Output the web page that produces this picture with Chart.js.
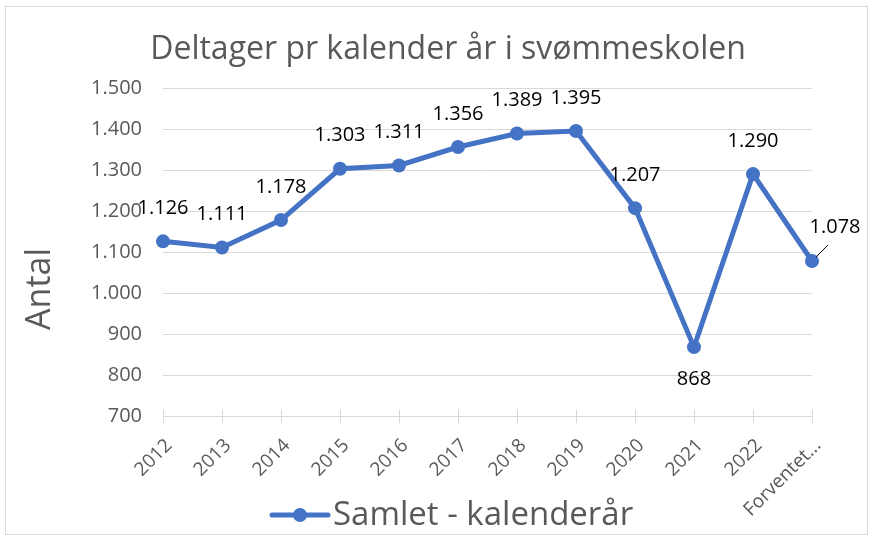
<!DOCTYPE html>
<html>
<head>
<meta charset="utf-8">
<script src="https://cdn.jsdelivr.net/npm/chart.js@4.4.0/dist/chart.umd.min.js"></script>
<style>
  html, body { margin: 0; padding: 0; background: #fff; }
  canvas { display: block; }
</style>
</head>
<body>
<canvas id="chart" width="876" height="541"></canvas>
<script>
const years = ['2012', '2013', '2014', '2015', '2016', '2017', '2018', '2019', '2020', '2021', '2022', 'Forventet...'];
const deltagere = [1126, 1111, 1178, 1303, 1311, 1356, 1389, 1395, 1207, 868, 1290, 1078];
const yTicks = [700, 800, 900, 1000, 1100, 1200, 1300, 1400, 1500];
// where each data label sits: above, below, or up-right with a leader line
const labelPlacement = ['above', 'above', 'above', 'above', 'above', 'above', 'above', 'above', 'above', 'below', 'above', 'leader'];

const chartTitle = 'Deltager pr kalender år i svømmeskolen';
const yTitle = 'Antal';
const seriesName = 'Samlet - kalenderår';

const blue = '#4472C4';
const grey = '#595959';
const gridGrey = '#d9d9d9';
const fontFamily = '"Open Sans", "Noto Sans", sans-serif';

// 1.126 style numbers
function fmt(n) {
    return String(n).replace(/\B(?=(\d{3})+(?!\d))/g, '.');
}

// white background, frame, title and the rotated y title
const chartFrame = {
    id: 'chartFrame',
    beforeDraw(chart) {
        const ctx = chart.ctx;
        ctx.save();
        ctx.fillStyle = '#fff';
        ctx.fillRect(0, 0, chart.width, chart.height);
        ctx.strokeStyle = gridGrey;
        ctx.lineWidth = 1;
        ctx.strokeRect(5.5, 6.5, 862, 528);

        ctx.fillStyle = grey;
        ctx.textAlign = 'center';
        ctx.textBaseline = 'middle';
        ctx.font = '32px ' + fontFamily;
        ctx.fillText(chartTitle, 448, 50);

        ctx.translate(40, 289);
        ctx.rotate(-Math.PI / 2);
        ctx.font = '34px ' + fontFamily;
        ctx.fillText(yTitle, 0, 0);
        ctx.restore();
    }
};

// Excel style cross tick marks and 45 degree category labels
const categoryAxis = {
    id: 'categoryAxis',
    beforeDatasetsDraw(chart) {
        const ctx = chart.ctx;
        const x = chart.scales.x;
        const y = Math.round(chart.chartArea.bottom) + 0.5;
        ctx.save();
        ctx.strokeStyle = gridGrey;
        ctx.lineWidth = 1;
        ctx.beginPath();
        x.ticks.forEach((t, i) => {
            const px = Math.round(x.getPixelForTick(i)) + 0.5;
            ctx.moveTo(px, y - 7);
            ctx.lineTo(px, y + 7);
        });
        ctx.stroke();

        ctx.fillStyle = grey;
        ctx.font = '19px ' + fontFamily;
        ctx.textAlign = 'right';
        ctx.textBaseline = 'middle';
        x.ticks.forEach((t, i) => {
            ctx.save();
            ctx.translate(x.getPixelForTick(i) + 6, y + 26);
            ctx.rotate(-Math.PI / 4);
            ctx.fillText(chart.data.labels[i], 0, 0);
            ctx.restore();
        });
        ctx.restore();
    }
};

const pointLabels = {
    id: 'pointLabels',
    afterDatasetsDraw(chart) {
        const ctx = chart.ctx;
        const meta = chart.getDatasetMeta(0);
        ctx.save();
        ctx.font = '20px ' + fontFamily;
        ctx.fillStyle = '#000';
        ctx.textAlign = 'center';
        ctx.textBaseline = 'middle';
        meta.data.forEach((pt, i) => {
            const txt = fmt(deltagere[i]);
            const place = labelPlacement[i];
            if (place === 'below') {
                ctx.fillText(txt, pt.x, pt.y + 32);
            } else if (place === 'leader') {
                ctx.fillText(txt, pt.x + 23, pt.y - 34);
                ctx.beginPath();
                ctx.strokeStyle = '#000';
                ctx.lineWidth = 1;
                ctx.moveTo(pt.x + 4, pt.y - 4);
                ctx.lineTo(pt.x + 16, pt.y - 16);
                ctx.stroke();
            } else {
                ctx.fillText(txt, pt.x, pt.y - 33);
            }
        });
        ctx.restore();
    }
};

const bottomLegend = {
    id: 'bottomLegend',
    afterDraw(chart) {
        const ctx = chart.ctx;
        const y = 515;
        const x0 = 272;
        ctx.save();
        ctx.strokeStyle = blue;
        ctx.lineWidth = 5;
        ctx.lineCap = 'round';
        ctx.beginPath();
        ctx.moveTo(x0, y);
        ctx.lineTo(x0 + 56, y);
        ctx.stroke();
        ctx.fillStyle = blue;
        ctx.beginPath();
        ctx.arc(x0 + 28, y, 7, 0, Math.PI * 2);
        ctx.fill();
        ctx.font = '33px ' + fontFamily;
        ctx.fillStyle = grey;
        ctx.textAlign = 'left';
        ctx.textBaseline = 'middle';
        ctx.fillText(seriesName, x0 + 61, y + 1);
        ctx.restore();
    }
};

new Chart(document.getElementById('chart'), {
    type: 'line',
    data: {
        labels: years,
        datasets: [{
            label: seriesName,
            data: deltagere,
            borderColor: blue,
            backgroundColor: blue,
            borderWidth: 5,
            pointRadius: 7,
            pointHoverRadius: 7,
            pointBackgroundColor: blue,
            pointBorderWidth: 0,
            tension: 0
        }]
    },
    options: {
        responsive: false,
        animation: false,
        layout: {
            padding: { top: 88, left: 5, right: 64, bottom: 10 }
        },
        plugins: {
            legend: { display: false },
            tooltip: { enabled: false }
        },
        scales: {
            x: {
                offset: false,
                grid: { display: false, offset: false },
                border: { color: gridGrey, width: 1 },
                ticks: { display: false, autoSkip: false },
                afterFit(scale) { scale.height = 115; }
            },
            y: {
                min: 700,
                max: 1500,
                afterBuildTicks(scale) {
                    scale.ticks = yTicks.map(v => ({ value: v }));
                },
                grid: { color: gridGrey, drawTicks: false },
                border: { display: false },
                ticks: {
                    color: grey,
                    font: { family: fontFamily, size: 20 },
                    padding: 21,
                    callback: v => fmt(v)
                },
                afterFit(scale) { scale.width = 158; }
            }
        }
    },
    plugins: [chartFrame, categoryAxis, pointLabels, bottomLegend]
});
</script>
</body>
</html>
